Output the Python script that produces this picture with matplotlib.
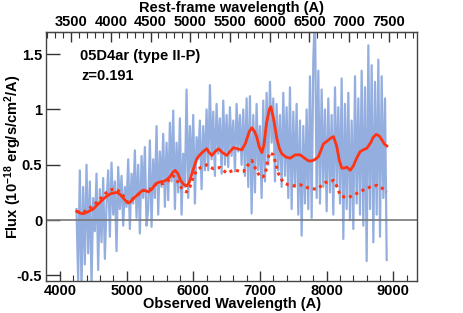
import numpy as np
import matplotlib
matplotlib.use('agg')
import matplotlib.pyplot as plt
from matplotlib.ticker import MultipleLocator

z = 0.191

# observed spectrum, 25 A sampling from 4250 to 8900 A
wave = np.arange(4250, 8901, 25)
flux = [0.10, -0.55, 0.45, -0.62, 0.30, -0.40, 0.50,
        -0.30, 0.35, -0.58, 0.20, -0.10, 0.42, -0.45, 0.28, -0.20, 0.38, -0.35, 0.15,
        0.45, -0.15, 0.52, 0.05, 0.35, -0.28, 0.48, 0.10, 0.40, -0.05, 0.30, 0.12,
        0.55, -0.08, 0.42, 0.15, 0.63, 0.02, 0.50, -0.12, 0.58, 0.20, 0.66, -0.05,
        0.10, 0.72, -0.06, 0.55, 0.20, 0.85, 0.05, 0.62, 0.30, 0.78, 0.12, 0.70,
        0.18, 0.88, 0.35, 0.99, 0.10, 0.70, 0.25, 0.92, 0.05, 0.60, 0.30, 1.18,
        0.20, 0.85, 0.40, 0.95, 0.15, 0.75, 0.55, 0.90, 0.28, 0.85, 0.45, 1.00,
        0.45, 1.22, 0.55, 0.98, 0.40, 1.05, 0.60, 0.92, 0.42, 1.08, 0.50, 0.95,
        0.48, 1.02, 0.58, 0.90, 0.44, 1.05, 0.62, 0.95, 0.50, 1.00, 0.40, 1.10,
        0.30, 1.12, 0.06, 0.95, 0.25, 1.05, 0.45, 0.85, 0.20, 1.08, 0.35, 1.15,
        0.50, 1.25, 0.70, 1.10, 0.35, 1.05, 0.45, 0.95, 0.30, 1.15, 0.40, 1.02,
        0.20, 1.20, 0.10, 0.98, 0.30, 1.05, 0.05, 0.90, -0.14, 0.85, 0.15, 1.00,
        0.10, 1.30, 0.02, 1.45, 1.90, 0.20, 1.35, 0.15,
        1.18, 0.30, 1.00, 0.08, 1.10, 0.25, 0.95, 0.05, 1.20, 0.30, 1.02, 0.15,
        1.28, -0.17, 1.05, 0.10, 1.15, 0.00, 0.90, -0.08, 1.30, 0.15, 1.10, 0.05,
        1.35, -0.05, 1.20, -0.37, 1.58, 0.10, 1.40, -0.20, 1.25, 0.05, 1.45, -0.15,
        1.30, 0.20, 1.10, -0.36]

# template fit (solid)
fit_wave = [4253, 4300, 4350, 4400, 4450, 4500, 4550, 4600, 4650, 4700, 4750, 4800,
            4853, 4900, 4950, 5000, 5027, 5060, 5100, 5128, 5180, 5220, 5253, 5290,
            5328, 5380, 5420, 5453, 5500, 5550, 5603, 5650, 5690, 5728, 5770, 5810,
            5860, 5900, 5940, 5990, 6053, 6100, 6150, 6203, 6240, 6278, 6330, 6378,
            6440, 6503, 6550, 6603, 6660, 6728, 6780, 6840, 6878, 6920, 6953, 6990,
            7028, 7060, 7100, 7140, 7163, 7200, 7253, 7290, 7328, 7390, 7453, 7530,
            7603, 7680, 7730, 7778, 7830, 7878, 7953, 8010, 8060, 8103, 8150, 8190,
            8228, 8265, 8303, 8353, 8400, 8450, 8503, 8550, 8603, 8660, 8700, 8743,
            8790, 8828, 8870, 8903]
fit_flux = [0.08, 0.065, 0.058, 0.07, 0.085, 0.10, 0.13, 0.16, 0.19, 0.215, 0.235, 0.245,
            0.25, 0.235, 0.20, 0.165, 0.155, 0.165, 0.195, 0.21, 0.235, 0.26, 0.27, 0.265,
            0.255, 0.28, 0.315, 0.335, 0.345, 0.35, 0.365, 0.39, 0.43, 0.45, 0.42, 0.36,
            0.32, 0.31, 0.34, 0.44, 0.555, 0.59, 0.62, 0.645, 0.61, 0.585, 0.62, 0.645,
            0.61, 0.585, 0.62, 0.655, 0.645, 0.635, 0.69, 0.80, 0.835, 0.80, 0.75, 0.66,
            0.61, 0.68, 0.88, 1.00, 1.025, 0.93, 0.74, 0.65, 0.60, 0.57, 0.56, 0.59,
            0.59, 0.555, 0.535, 0.535, 0.55, 0.575, 0.69, 0.715, 0.74, 0.755, 0.67, 0.54,
            0.47, 0.47, 0.48, 0.45, 0.49, 0.56, 0.62, 0.635, 0.65, 0.70, 0.75, 0.775,
            0.76, 0.725, 0.685, 0.67]

# supernova component (dotted)
sn_wave = [4253, 4300, 4350, 4400, 4450, 4500, 4550, 4600, 4650, 4700, 4750, 4800,
           4830, 4880, 4950, 5000, 5027, 5060, 5100, 5128, 5180, 5220, 5253, 5300,
           5340, 5400, 5453, 5500, 5550, 5603, 5650, 5700, 5740, 5790, 5850, 5900,
           5950, 6000, 6053, 6120, 6203, 6250, 6300, 6350, 6403, 6450, 6503, 6560,
           6628, 6690, 6753, 6810, 6878, 6930, 7003, 7040, 7078, 7110, 7143, 7203,
           7240, 7278, 7320, 7353, 7420, 7503, 7603, 7680, 7753, 7853, 7920, 7978,
           8053, 8103, 8150, 8203, 8260, 8328, 8420, 8503, 8580, 8653, 8753, 8830,
           8903]
sn_flux = [0.08, 0.07, 0.07, 0.09, 0.11, 0.13, 0.16, 0.19, 0.22, 0.25, 0.27, 0.28,
           0.28, 0.265, 0.22, 0.175, 0.16, 0.17, 0.195, 0.21, 0.235, 0.26, 0.27, 0.265,
           0.27, 0.31, 0.325, 0.33, 0.33, 0.345, 0.37, 0.40, 0.38, 0.32, 0.27, 0.255,
           0.30, 0.39, 0.45, 0.48, 0.50, 0.48, 0.465, 0.47, 0.475, 0.45, 0.425, 0.44,
           0.455, 0.44, 0.44, 0.49, 0.54, 0.47, 0.39, 0.39, 0.41, 0.52, 0.61, 0.59,
           0.50, 0.42, 0.37, 0.34, 0.32, 0.31, 0.32, 0.30, 0.285, 0.28, 0.31, 0.34,
           0.345, 0.36, 0.31, 0.225, 0.21, 0.205, 0.23, 0.26, 0.28, 0.30, 0.315, 0.29,
           0.255]

plt.rcParams['font.family'] = ['Liberation Sans', 'DejaVu Sans']
plt.rcParams['font.weight'] = 'bold'
plt.rcParams['font.size'] = 10.5
plt.rcParams['mathtext.fontset'] = 'custom'
plt.rcParams['mathtext.rm'] = 'Liberation Sans:bold'
plt.rcParams['mathtext.default'] = 'rm'

red = '#ff3414'

fig = plt.figure(figsize=(4.63, 3.13), dpi=100)
ax = fig.add_axes([0.1004, 0.1022, 0.7996, 0.7956])

ax.plot(wave, flux, color='#88a6dc', linewidth=1.6, alpha=0.9, zorder=1)
ax.axhline(0, color='#777777', linewidth=1.2, zorder=2)
ax.plot(fit_wave, fit_flux, color=red, linewidth=2.0, zorder=4)
ax.plot(sn_wave, sn_flux, color=red, linewidth=2.2, linestyle=(0, (1, 1.3)), zorder=3)

ax.set_xlim(3800, 9350)
ax.set_ylim(-0.55, 1.7)
ax.xaxis.set_major_locator(MultipleLocator(1000))
ax.xaxis.set_minor_locator(MultipleLocator(200))
ax.set_yticks([-0.5, 0, 0.5, 1, 1.5])
ax.set_yticklabels(['-0.5', '0', '0.5', '1', '1.5'])
ax.tick_params(axis='x', which='both', direction='in', top=False, pad=2.5, colors='#333333', labelcolor='black')
ax.tick_params(axis='x', which='major', length=7, width=1)
ax.tick_params(axis='x', which='minor', length=4, width=0.8)
ax.tick_params(axis='y', which='major', direction='in', length=10, width=1, right=False, pad=3,
               colors='#333333', labelcolor='black')
for s in ax.spines.values():
    s.set_color('#444444')
    s.set_linewidth(1.0)

top = ax.secondary_xaxis('top', functions=(lambda w: w / (1 + z), lambda w: w * (1 + z)))
top.xaxis.set_major_locator(MultipleLocator(500))
top.xaxis.set_minor_locator(MultipleLocator(100))
top.tick_params(which='both', direction='in', pad=2.5, colors='#333333', labelcolor='black')
top.tick_params(which='major', length=7, width=1)
top.tick_params(which='minor', length=4, width=0.8)
top.set_xlabel('Rest-frame wavelength (A)', fontweight='bold', labelpad=2)

ax.set_xlabel('Observed Wavelength (A)', fontweight='bold', labelpad=-1)
ax.set_ylabel(r'Flux (10$^{-18}$ erg/s/cm$^{2}$/A)', fontweight='bold')
ax.yaxis.set_label_coords(-0.062, 0.5)

ax.text(0.09, 0.888, '05D4ar (type II-P)', transform=ax.transAxes, fontweight='bold')
ax.text(0.095, 0.807, 'z=0.191', transform=ax.transAxes, fontweight='bold')

fig.savefig('out.png', dpi=100)
